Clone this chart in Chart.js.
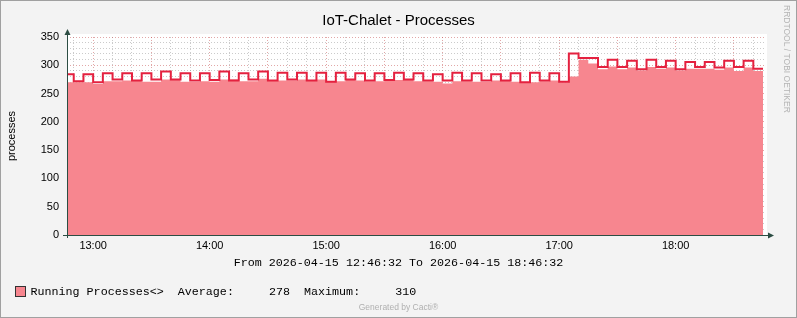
<!DOCTYPE html>
<html lang="en">
<head>
<meta charset="UTF-8">
<title>IoT-Chalet - Processes</title>
<script src="https://cdn.jsdelivr.net/npm/chart.js"></script>
<style>
  html, body { margin: 0; padding: 0; background: #f3f3f3; }
  canvas { display: block; }
</style>
</head>
<body>
<canvas id="procChart" width="797" height="318"></canvas>
<script>
// 5 minute samples (slot start times)
const slotTimes = [
  '12:45', '12:50', '12:55',
  '13:00', '13:05', '13:10', '13:15', '13:20', '13:25', '13:30', '13:35', '13:40', '13:45', '13:50', '13:55',
  '14:00', '14:05', '14:10', '14:15', '14:20', '14:25', '14:30', '14:35', '14:40', '14:45', '14:50', '14:55',
  '15:00', '15:05', '15:10', '15:15', '15:20', '15:25', '15:30', '15:35', '15:40', '15:45', '15:50', '15:55',
  '16:00', '16:05', '16:10', '16:15', '16:20', '16:25', '16:30', '16:35', '16:40', '16:45', '16:50', '16:55',
  '17:00', '17:05', '17:10', '17:15', '17:20', '17:25', '17:30', '17:35', '17:40', '17:45', '17:50', '17:55',
  '18:00', '18:05', '18:10', '18:15', '18:20', '18:25', '18:30', '18:35', '18:40'
];

// Running Processes (area)
const runningProcs = [
  270, 270, 270,
  267, 272, 272, 273, 273, 271, 271, 275, 275, 271, 271, 272,
  271, 275, 275, 272, 272, 276, 274, 273, 273, 275, 273, 275,
  271, 272, 274, 273, 272, 272, 273, 274, 274, 272, 272, 271,
  268, 272, 272, 271, 271, 273, 273, 271, 270, 270, 272, 273,
  270, 280, 310, 303, 293, 298, 293, 296, 291, 297, 294, 296,
  291, 294, 294, 294, 292, 296, 290, 296, 290
];

// red line on top
const procLine = [
  284, 272, 284,
  270, 286, 275, 286, 273, 286, 275, 289, 275, 286, 273, 286,
  274, 289, 273, 286, 275, 289, 273, 287, 275, 287, 273, 287,
  271, 287, 275, 286, 273, 286, 274, 287, 275, 286, 273, 284,
  273, 287, 273, 286, 273, 284, 273, 286, 270, 287, 273, 286,
  271, 321, 313, 313, 297, 310, 297, 308, 293, 310, 297, 308,
  293, 306, 297, 306, 296, 308, 297, 308, 294
];

const hourLabels = ['13:00', '14:00', '15:00', '16:00', '17:00', '18:00'];
const rangeStart = '12:46:32';
const rangeEnd = '18:46:32';
const stepMin = 5;

const titleText = 'IoT-Chalet - Processes';
const fromText = 'From 2026-04-15 12:46:32 To 2026-04-15 18:46:32';
const legendText = 'Running Processes<>  Average:     278  Maximum:     310';

const AREA = '#f7868f';
const LINE = '#e4213f';
const AXIS = '#2c4d43';
const gridMinor = 'rgba(140,140,140,0.45)';
const gridMajor = 'rgba(190,60,60,0.45)';

function toMin(t) {
    const p = t.split(':').map(Number);
    return p[0] * 60 + p[1] + (p[2] || 0) / 60;
}

function stepPoints(values) {
    const pts = values.map((v, i) => ({x: toMin(slotTimes[i]), y: v}));
    // close the last 5 minute slot
    pts.push({x: toMin(slotTimes[slotTimes.length - 1]) + stepMin, y: values[values.length - 1]});
    return pts;
}

const rrdDecor = {
    id: 'rrdDecor',
    beforeDraw(chart) {
        const {ctx, chartArea: a} = chart;
        ctx.save();
        ctx.fillStyle = '#f3f3f3';
        ctx.fillRect(0, 0, chart.width, chart.height);
        ctx.fillStyle = '#ffffff';
        ctx.fillRect(a.left, a.top - 3, a.right - a.left + 1, a.bottom - a.top + 3);
        ctx.restore();
    },
    afterDraw(chart) {
        const {ctx, chartArea: a} = chart;
        ctx.save();

        // axes + arrows
        ctx.strokeStyle = AXIS;
        ctx.fillStyle = AXIS;
        ctx.lineWidth = 1;
        ctx.beginPath();
        ctx.moveTo(a.left - 4, a.bottom + 0.5);
        ctx.lineTo(a.right + 3, a.bottom + 0.5);
        ctx.moveTo(a.left + 0.5, a.bottom + 3);
        ctx.lineTo(a.left + 0.5, a.top - 4);
        ctx.stroke();
        ctx.beginPath();
        ctx.moveTo(a.right + 8, a.bottom + 0.5);
        ctx.lineTo(a.right + 2, a.bottom - 2.5);
        ctx.lineTo(a.right + 2, a.bottom + 3.5);
        ctx.closePath();
        ctx.fill();
        ctx.beginPath();
        ctx.moveTo(a.left + 0.5, a.top - 8);
        ctx.lineTo(a.left - 2.5, a.top - 2);
        ctx.lineTo(a.left + 3.5, a.top - 2);
        ctx.closePath();
        ctx.fill();

        // frame
        ctx.strokeStyle = '#a0a0a0';
        ctx.strokeRect(0.5, 0.5, chart.width - 1, chart.height - 1);

        // title
        ctx.fillStyle = '#000';
        ctx.textAlign = 'center';
        ctx.textBaseline = 'middle';
        ctx.font = '15px "Liberation Sans", Arial, sans-serif';
        ctx.fillText(titleText, chart.width / 2, 21);

        // period line
        ctx.font = '11.7px "Liberation Mono", monospace';
        ctx.fillText(fromText, chart.width / 2, 263);

        // legend
        ctx.fillStyle = AREA;
        ctx.fillRect(15.5, 286.5, 10, 10);
        ctx.strokeStyle = '#333';
        ctx.strokeRect(15.5, 286.5, 10, 10);
        ctx.fillStyle = '#000';
        ctx.textAlign = 'left';
        ctx.fillText(legendText, 30.5, 291.5);

        // footer
        ctx.fillStyle = '#b0b0b0';
        ctx.textAlign = 'center';
        ctx.font = '8.5px "Liberation Sans", Arial, sans-serif';
        ctx.fillText('Generated by Cacti\u00ae', chart.width / 2, 307.5);

        // watermark
        ctx.translate(786, 5);
        ctx.rotate(Math.PI / 2);
        ctx.textAlign = 'left';
        ctx.fillStyle = '#b4b4b4';
        ctx.fillText('RRDTOOL / TOBI OETIKER', 0, 0);
        ctx.restore();
    }
};

const tickFont = {family: 'Liberation Sans', size: 11};

const ctx = document.getElementById('procChart').getContext('2d');
new Chart(ctx, {
    type: 'line',
    data: {
        datasets: [{
            label: 'Processes',
            data: stepPoints(procLine),
            borderColor: LINE,
            borderWidth: 2,
            pointRadius: 0,
            stepped: 'before',
            fill: false
        }, {
            label: 'Running Processes',
            data: stepPoints(runningProcs),
            borderColor: 'rgba(0,0,0,0)',
            borderWidth: 1,
            backgroundColor: AREA,
            pointRadius: 0,
            stepped: 'before',
            fill: 'origin'
        }]
    },
    options: {
        responsive: false,
        animation: false,
        layout: {padding: {left: 0, right: 31, top: 37, bottom: 0}},
        plugins: {
            legend: {display: false},
            tooltip: {enabled: false},
            title: {display: false}
        },
        scales: {
            x: {
                type: 'linear',
                min: toMin(rangeStart),
                max: toMin(rangeEnd),
                z: 1,
                afterBuildTicks: scale => {
                    const ticks = [];
                    for (let m = Math.ceil(scale.min / 10) * 10; m < scale.max; m += 10) {
                        ticks.push({value: m});
                    }
                    scale.ticks = ticks;
                },
                ticks: {
                    autoSkip: false,
                    maxRotation: 0,
                    minRotation: 0,
                    padding: 4,
                    color: '#000',
                    font: tickFont,
                    callback: v => {
                        const lbl = hourLabels.find(h => toMin(h) === v);
                        return lbl || '';
                    }
                },
                grid: {
                    drawTicks: false,
                    color: c => (c.tick && c.tick.value % 30 === 0) ? gridMajor : gridMinor
                },
                border: {display: false, dash: [1, 2]},
                afterFit: scale => { scale.height = 83; }
            },
            y: {
                min: 0,
                max: 350,
                z: 1,
                ticks: {
                    stepSize: 10,
                    autoSkip: false,
                    padding: 8,
                    color: '#000',
                    font: tickFont,
                    callback: v => v % 50 === 0 ? v : ''
                },
                grid: {
                    drawTicks: false,
                    color: c => (c.tick && c.tick.value % 50 === 0) ? gridMajor : gridMinor
                },
                border: {display: false, dash: [1, 2]},
                title: {
                    display: true,
                    text: 'processes',
                    color: '#000',
                    font: tickFont,
                    padding: {top: 5, bottom: 0}
                },
                afterFit: scale => { scale.width = 67; }
            }
        }
    },
    plugins: [rrdDecor]
});
</script>
</body>
</html>
